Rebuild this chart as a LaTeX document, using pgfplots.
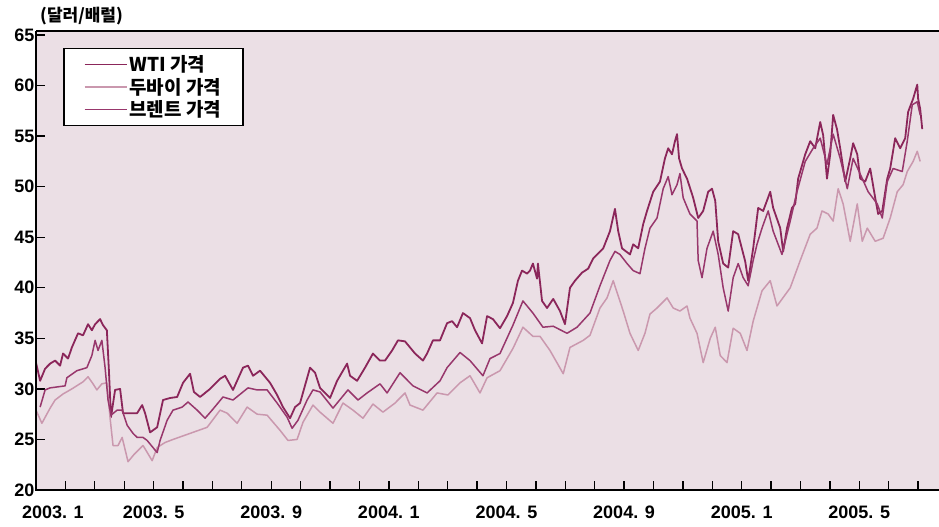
\documentclass[border=0pt]{standalone}
\usepackage{fontspec}
\setmainfont{Liberation Sans}
\newfontfamily\kr{Noto Sans CJK KR}
\usepackage{pgfplots}
\pgfplotsset{compat=1.18}
\definecolor{wti}{RGB}{139,38,90}
\definecolor{brent}{RGB}{152,55,108}
\definecolor{dubai}{RGB}{202,152,174}
\definecolor{bgc}{RGB}{235,223,229}
\pgfplotsset{mylegend/.style={legend image code/.code={\draw[##1, line width=1.6pt] (0pt,0pt) -- (42pt,0pt);}}}
\begin{document}
\begin{tikzpicture}
\begin{axis}[
  name=main,
  at={(36pt,37pt)}, anchor=south west,
  scale only axis, width=903pt, height=459pt,
  xmin=0, xmax=30.71, ymin=20, ymax=65.4,
  axis line style={draw=none},
  axis background/.style={fill=bgc},
  xtick pos=bottom, ytick pos=left,
  tick align=inside,
  major tick length=9pt, minor tick length=9pt,
  every tick/.style={black, line width=1.3pt},
  xtick={0,4,...,28},
  minor xtick={1,...,30},
  xticklabels={{\makebox[0pt][l]{\hspace*{-14pt}2003. 1}},2003. 5,2003. 9,2004. 1,2004. 5,2004. 9,2005. 1,2005. 5},
  ytick={20,25,...,65},
  /pgf/number format/assume math mode=true,
  tick label style={font=\bfseries\fontsize{18}{18}\selectfont},
  xticklabel style={yshift=-12pt},
  yticklabel style={xshift=2pt},
  legend style={at={(rel axis cs:0.0299,0.9630)}, anchor=north west,
    draw=black, line width=1.5pt, fill=white,
    font=\kr\bfseries\fontsize{19}{20}\selectfont,
    inner xsep=20pt, inner ysep=5pt, row sep=1pt},
  legend cell align=left,
]
\addplot[wti, line width=1.8pt, line join=round, mylegend] table {
0.00 32.6
0.14 30.8
0.31 32.0
0.48 32.5
0.65 32.8
0.82 32.3
0.92 33.5
1.09 33.0
1.22 34.1
1.43 35.5
1.60 35.3
1.77 36.4
1.90 35.8
2.01 36.4
2.18 36.9
2.28 36.3
2.41 35.8
2.48 31.8
2.55 27.2
2.69 29.9
2.86 30.0
2.96 27.6
3.20 27.6
3.44 27.6
3.61 28.4
3.71 27.6
3.88 25.7
4.12 26.2
4.32 28.9
4.56 29.1
4.80 29.2
5.00 30.6
5.24 31.5
5.37 29.7
5.58 29.2
5.92 30.0
6.26 31.0
6.43 31.3
6.70 29.9
7.04 32.1
7.21 32.3
7.38 31.3
7.62 31.8
7.96 30.6
8.20 29.4
8.40 28.2
8.64 27.1
8.81 28.2
8.98 28.6
9.32 32.1
9.49 31.6
9.66 30.1
10.00 29.1
10.24 30.8
10.58 32.5
10.68 31.3
10.92 30.8
11.19 32.1
11.46 33.5
11.70 32.8
11.87 32.8
12.11 33.8
12.31 34.8
12.55 34.7
12.89 33.5
13.16 32.8
13.30 33.5
13.50 34.8
13.74 34.8
13.98 36.5
14.15 36.7
14.32 36.1
14.52 37.5
14.76 37.0
14.93 35.8
15.17 34.5
15.34 37.2
15.54 36.9
15.78 36.0
16.02 37.2
16.22 38.5
16.39 40.7
16.53 41.7
16.70 41.4
16.80 41.7
16.90 42.4
17.04 40.9
17.07 42.4
17.21 38.7
17.38 38.0
17.59 38.9
17.82 37.7
17.99 36.4
18.16 40.0
18.33 40.7
18.57 41.5
18.78 41.9
18.95 42.9
19.29 43.9
19.52 45.6
19.69 47.8
19.80 45.6
19.93 43.9
20.20 43.3
20.31 44.3
20.48 43.9
20.65 46.3
20.78 47.6
20.99 49.5
21.22 50.5
21.39 52.8
21.50 53.8
21.63 53.2
21.73 54.5
21.80 55.2
21.87 52.8
21.97 51.8
22.14 50.8
22.35 48.9
22.52 46.9
22.69 47.6
22.86 49.5
22.99 49.8
23.10 48.6
23.20 44.6
23.37 42.4
23.54 42.0
23.71 45.6
23.88 45.3
24.12 42.6
24.22 40.7
24.39 43.9
24.56 47.9
24.73 47.6
24.97 49.5
25.07 47.9
25.31 45.9
25.41 43.6
25.54 45.9
25.71 47.9
25.82 48.3
25.92 50.8
26.16 53.2
26.33 54.5
26.50 53.8
26.67 56.4
26.77 55.1
26.90 50.8
27.01 53.2
27.11 57.1
27.24 55.7
27.35 53.8
27.52 50.5
27.69 52.8
27.79 54.3
27.93 53.2
28.03 50.8
28.20 50.5
28.37 51.8
28.54 48.9
28.64 47.3
28.78 47.6
28.95 50.8
29.05 51.8
29.22 54.8
29.39 53.8
29.56 54.8
29.66 57.4
29.83 58.7
29.97 60.1
30.00 58.7
30.07 57.7
30.14 55.7
};
\addlegendentry{WTI 가격}
\addplot[dubai, line width=1.5pt, line join=round, mylegend] table {
0.00 27.9
0.20 26.6
0.48 28.1
0.65 28.9
0.92 29.5
1.22 30.0
1.60 30.7
1.77 31.2
1.94 30.5
2.07 29.9
2.24 30.5
2.41 30.6
2.52 27.1
2.62 24.4
2.79 24.4
2.93 25.2
3.13 22.8
3.33 23.5
3.64 24.4
3.95 22.9
4.12 24.2
4.39 24.7
4.66 25.0
5.24 25.6
5.82 26.2
6.26 27.9
6.50 27.6
6.84 26.6
7.18 28.2
7.52 27.5
7.86 27.4
8.30 25.9
8.57 24.9
8.88 25.0
9.08 26.7
9.42 28.4
9.66 27.7
10.10 26.6
10.44 28.6
10.78 27.9
11.12 27.1
11.46 28.5
11.80 27.7
12.21 28.6
12.55 29.6
12.72 28.4
13.16 27.9
13.64 29.6
14.01 29.4
14.42 30.6
14.76 31.3
15.10 29.6
15.34 31.1
15.78 31.8
16.22 34.0
16.56 36.1
16.90 35.2
17.14 35.2
17.48 33.8
17.93 31.5
18.16 34.1
18.61 34.8
18.84 35.3
19.18 38.0
19.42 39.0
19.63 40.7
19.80 39.2
19.97 37.7
20.20 35.5
20.48 33.8
20.71 35.5
20.88 37.4
21.12 38.0
21.46 39.0
21.67 38.0
21.90 37.7
22.14 38.2
22.24 37.0
22.48 35.5
22.69 32.6
22.93 35.0
23.10 36.1
23.27 33.3
23.50 32.6
23.71 36.0
23.95 35.5
24.18 33.8
24.39 36.7
24.69 39.7
24.97 40.7
25.20 38.2
25.65 40.0
25.99 42.7
26.33 45.3
26.56 45.9
26.73 47.6
26.94 47.3
27.11 46.6
27.28 49.8
27.45 48.3
27.69 44.6
27.93 48.3
28.10 44.6
28.27 45.9
28.54 44.6
28.81 44.9
29.05 46.9
29.29 49.5
29.49 50.2
29.63 51.5
29.83 52.5
29.97 53.5
30.07 52.5
};
\addlegendentry{두바이 가격}
\addplot[brent, line width=1.5pt, line join=round, mylegend] table {
0.14 28.2
0.31 29.9
0.48 30.1
0.99 30.3
1.05 31.1
1.39 31.8
1.73 32.1
1.90 33.3
2.01 34.8
2.11 33.8
2.24 34.8
2.35 32.1
2.45 28.9
2.55 27.4
2.76 27.9
2.93 27.9
3.10 26.4
3.30 25.6
3.44 25.2
3.64 25.2
3.78 24.9
4.12 23.7
4.22 24.9
4.46 26.9
4.66 27.9
4.97 28.2
5.17 28.7
5.48 27.9
5.75 27.1
5.99 27.9
6.36 29.2
6.70 28.9
7.21 30.1
7.52 29.9
7.86 29.9
8.20 28.6
8.54 27.2
8.71 26.1
8.91 26.9
9.22 28.9
9.42 29.9
9.66 29.7
10.10 28.1
10.61 29.9
10.95 28.9
11.26 29.6
11.70 30.5
11.94 29.6
12.38 31.6
12.82 30.3
13.30 29.6
13.74 30.8
13.98 32.1
14.42 33.6
14.76 32.8
15.20 31.3
15.44 33.0
15.78 33.5
16.22 36.3
16.56 38.7
16.90 37.5
17.24 36.1
17.59 36.2
18.06 35.5
18.40 36.1
18.84 37.5
19.18 40.2
19.52 42.7
19.69 43.6
19.86 43.3
20.10 42.4
20.31 41.7
20.54 41.4
20.71 43.9
20.88 45.9
21.12 46.9
21.33 49.8
21.50 51.0
21.63 49.2
21.80 50.2
21.90 51.3
22.01 48.9
22.24 47.3
22.48 46.6
22.52 42.7
22.65 41.0
22.82 43.9
23.03 45.6
23.20 43.3
23.37 40.0
23.54 37.7
23.71 41.0
23.88 42.4
24.05 41.0
24.22 40.2
24.39 42.7
24.52 44.3
24.69 45.9
24.90 47.6
25.07 45.6
25.37 43.3
25.65 46.6
25.88 49.5
26.16 52.5
26.43 53.8
26.67 54.8
26.90 52.2
27.11 55.2
27.35 52.8
27.59 49.8
27.79 52.8
28.10 50.8
28.30 49.5
28.61 48.3
28.78 46.9
28.95 50.5
29.15 51.8
29.46 51.5
29.63 54.5
29.80 58.1
29.97 58.4
30.07 57.1
};
\addlegendentry{브렌트 가격}
\end{axis}
\draw[black, line width=1.6pt] (main.north west) -- (main.south west) -- (main.south east);
\draw[black, line width=1.6pt] (main.north west) -- (main.north east);
\node[anchor=south west, inner sep=0pt, font=\kr\bfseries\fontsize{17}{17}\selectfont] at ([xshift=4pt, yshift=6pt]main.north west) {(달러/배럴)};
\pgfresetboundingbox
\path (0,0) rectangle (939pt,527pt);
\end{tikzpicture}
\end{document}
